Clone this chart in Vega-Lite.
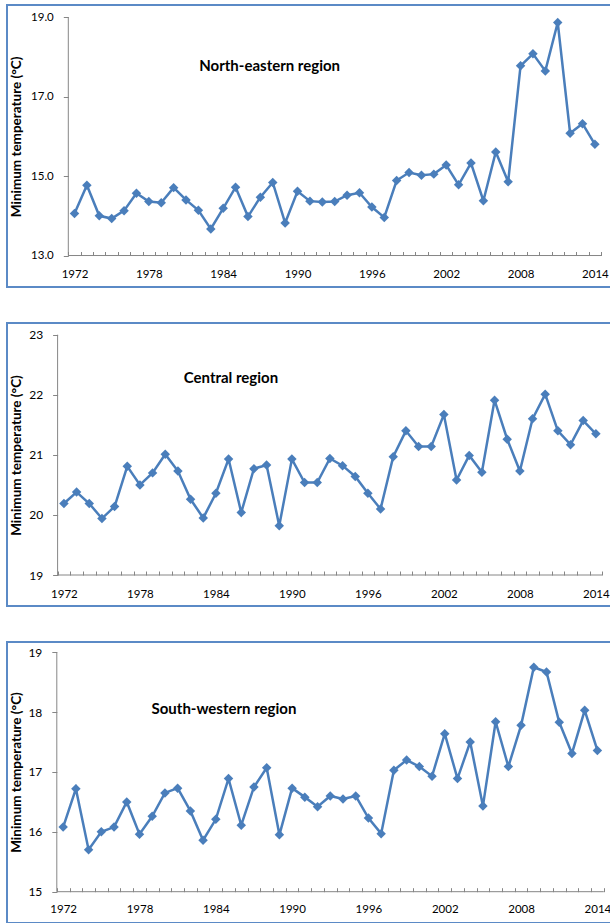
{
  "$schema": "https://vega.github.io/schema/vega-lite/v6.json",
  "padding": {"left": 6, "top": 4, "right": 0, "bottom": 0},
  "spacing": 34,
  "config": {
    "view": {"stroke": "#5B8AC6", "strokeWidth": 2},
    "axis": {"labelFont": "Lato", "labelColor": "#000000", "titleFont": "Lato", "titleColor": "#000000", "tickColor": "#868686", "grid": false, "domain": false, "labelOverlap": false, "labelBound": false, "labelFlush": false}
  },
  "datasets": {
    "ne": [
      {"year": 1972, "tmin": 14.06}, {"year": 1973, "tmin": 14.77}, {"year": 1974, "tmin": 14.00}, {"year": 1975, "tmin": 13.93}, {"year": 1976, "tmin": 14.13}, {"year": 1977, "tmin": 14.57}, {"year": 1978, "tmin": 14.36}, {"year": 1979, "tmin": 14.33}, {"year": 1980, "tmin": 14.71}, {"year": 1981, "tmin": 14.40}, {"year": 1982, "tmin": 14.14}, {"year": 1983, "tmin": 13.67}, {"year": 1984, "tmin": 14.19}, {"year": 1985, "tmin": 14.72}, {"year": 1986, "tmin": 13.98}, {"year": 1987, "tmin": 14.47}, {"year": 1988, "tmin": 14.84}, {"year": 1989, "tmin": 13.82}, {"year": 1990, "tmin": 14.62}, {"year": 1991, "tmin": 14.37}, {"year": 1992, "tmin": 14.35}, {"year": 1993, "tmin": 14.36}, {"year": 1994, "tmin": 14.52}, {"year": 1995, "tmin": 14.58}, {"year": 1996, "tmin": 14.22}, {"year": 1997, "tmin": 13.96}, {"year": 1998, "tmin": 14.89}, {"year": 1999, "tmin": 15.09}, {"year": 2000, "tmin": 15.02}, {"year": 2001, "tmin": 15.05}, {"year": 2002, "tmin": 15.28}, {"year": 2003, "tmin": 14.78}, {"year": 2004, "tmin": 15.33}, {"year": 2005, "tmin": 14.38}, {"year": 2006, "tmin": 15.61}, {"year": 2007, "tmin": 14.86}, {"year": 2008, "tmin": 17.78}, {"year": 2009, "tmin": 18.08}, {"year": 2010, "tmin": 17.65}, {"year": 2011, "tmin": 18.87}, {"year": 2012, "tmin": 16.08}, {"year": 2013, "tmin": 16.32}, {"year": 2014, "tmin": 15.80}
    ],
    "central": [
      {"year": 1972, "tmin": 20.19}, {"year": 1973, "tmin": 20.38}, {"year": 1974, "tmin": 20.19}, {"year": 1975, "tmin": 19.94}, {"year": 1976, "tmin": 20.14}, {"year": 1977, "tmin": 20.81}, {"year": 1978, "tmin": 20.50}, {"year": 1979, "tmin": 20.70}, {"year": 1980, "tmin": 21.01}, {"year": 1981, "tmin": 20.73}, {"year": 1982, "tmin": 20.26}, {"year": 1983, "tmin": 19.95}, {"year": 1984, "tmin": 20.36}, {"year": 1985, "tmin": 20.93}, {"year": 1986, "tmin": 20.04}, {"year": 1987, "tmin": 20.77}, {"year": 1988, "tmin": 20.83}, {"year": 1989, "tmin": 19.82}, {"year": 1990, "tmin": 20.93}, {"year": 1991, "tmin": 20.54}, {"year": 1992, "tmin": 20.54}, {"year": 1993, "tmin": 20.94}, {"year": 1994, "tmin": 20.82}, {"year": 1995, "tmin": 20.64}, {"year": 1996, "tmin": 20.36}, {"year": 1997, "tmin": 20.10}, {"year": 1998, "tmin": 20.97}, {"year": 1999, "tmin": 21.40}, {"year": 2000, "tmin": 21.14}, {"year": 2001, "tmin": 21.14}, {"year": 2002, "tmin": 21.67}, {"year": 2003, "tmin": 20.58}, {"year": 2004, "tmin": 20.99}, {"year": 2005, "tmin": 20.71}, {"year": 2006, "tmin": 21.91}, {"year": 2007, "tmin": 21.26}, {"year": 2008, "tmin": 20.73}, {"year": 2009, "tmin": 21.60}, {"year": 2010, "tmin": 22.01}, {"year": 2011, "tmin": 21.40}, {"year": 2012, "tmin": 21.17}, {"year": 2013, "tmin": 21.57}, {"year": 2014, "tmin": 21.35}
    ],
    "sw": [
      {"year": 1972, "tmin": 16.08}, {"year": 1973, "tmin": 16.72}, {"year": 1974, "tmin": 15.70}, {"year": 1975, "tmin": 16.00}, {"year": 1976, "tmin": 16.08}, {"year": 1977, "tmin": 16.50}, {"year": 1978, "tmin": 15.96}, {"year": 1979, "tmin": 16.26}, {"year": 1980, "tmin": 16.65}, {"year": 1981, "tmin": 16.73}, {"year": 1982, "tmin": 16.35}, {"year": 1983, "tmin": 15.86}, {"year": 1984, "tmin": 16.21}, {"year": 1985, "tmin": 16.89}, {"year": 1986, "tmin": 16.11}, {"year": 1987, "tmin": 16.75}, {"year": 1988, "tmin": 17.07}, {"year": 1989, "tmin": 15.95}, {"year": 1990, "tmin": 16.73}, {"year": 1991, "tmin": 16.58}, {"year": 1992, "tmin": 16.42}, {"year": 1993, "tmin": 16.60}, {"year": 1994, "tmin": 16.55}, {"year": 1995, "tmin": 16.60}, {"year": 1996, "tmin": 16.23}, {"year": 1997, "tmin": 15.97}, {"year": 1998, "tmin": 17.03}, {"year": 1999, "tmin": 17.20}, {"year": 2000, "tmin": 17.09}, {"year": 2001, "tmin": 16.93}, {"year": 2002, "tmin": 17.64}, {"year": 2003, "tmin": 16.89}, {"year": 2004, "tmin": 17.50}, {"year": 2005, "tmin": 16.43}, {"year": 2006, "tmin": 17.84}, {"year": 2007, "tmin": 17.09}, {"year": 2008, "tmin": 17.78}, {"year": 2009, "tmin": 18.75}, {"year": 2010, "tmin": 18.67}, {"year": 2011, "tmin": 17.83}, {"year": 2012, "tmin": 17.31}, {"year": 2013, "tmin": 18.03}, {"year": 2014, "tmin": 17.36}
    ]
  },
  "vconcat": [
    {
      "width": 604, "height": 282,
      "data": {"name": "ne"},
      "layer": [
        {"data": {"values": [{}]}, "mark": {"type": "rule", "color": "#868686", "strokeWidth": 1}, "encoding": {"x": {"datum": 1971.5, "type": "quantitative"}, "y": {"datum": 13, "type": "quantitative"}, "y2": {"datum": 19}}},
        {"data": {"values": [{}]}, "mark": {"type": "rule", "color": "#868686", "strokeWidth": 1}, "encoding": {"x": {"datum": 1971.5, "type": "quantitative"}, "x2": {"datum": 2014.5}, "y": {"datum": 13, "type": "quantitative"}}},
        {
          "mark": {"type": "line", "color": "#4A7EBB", "strokeWidth": 2.5},
          "encoding": {
            "x": {"field": "year", "type": "quantitative", "scale": {"domain": [1966.552, 2015.30], "nice": false, "zero": false},
              "axis": {"title": null, "tickCount": 100, "values": [1971.5,1972.5,1973.5,1974.5,1975.5,1976.5,1977.5,1978.5,1979.5,1980.5,1981.5,1982.5,1983.5,1984.5,1985.5,1986.5,1987.5,1988.5,1989.5,1990.5,1991.5,1992.5,1993.5,1994.5,1995.5,1996.5,1997.5,1998.5,1999.5,2000.5,2001.5,2002.5,2003.5,2004.5,2005.5,2006.5,2007.5,2008.5,2009.5,2010.5,2011.5,2012.5,2013.5,2014.5],
                "labelExpr": "(datum.value + 0.5 - 1972) % 6 === 0 ? format(datum.value + 0.5, 'd') : ''",
                "labelOverlap": false, "labelOffset": 6.2, "tickSize": -4, "offset": -31.5, "labelPadding": 17, "labelFontSize": 11.5}},
            "y": {"field": "tmin", "type": "quantitative", "scale": {"domain": [12.207, 19.31], "nice": false, "zero": false},
              "axis": {"title": "Minimum temperature (°C)", "values": [13, 15, 17, 19], "format": ".1f", "labelOverlap": false, "tickSize": 5, "offset": -61.3, "labelPadding": 10, "labelFontSize": 11.5, "titleFontSize": 13.5, "titleFontWeight": "bold", "titleX": -44.8, "titleY": 131.4}}
          }
        },
        {"mark": {"type": "point", "shape": "diamond", "filled": true, "size": 90, "color": "#4A7EBB", "opacity": 1}, "encoding": {"x": {"field": "year", "type": "quantitative"}, "y": {"field": "tmin", "type": "quantitative"}}},
        {"data": {"values": [{}]}, "mark": {"type": "text", "text": "North-eastern region", "font": "Lato", "fontWeight": "bold", "fontSize": 15, "color": "#000000"}, "encoding": {"x": {"datum": 1987.75, "type": "quantitative"}, "y": {"datum": 17.766, "type": "quantitative"}}}
      ]
    },
    {
      "width": 604, "height": 283,
      "data": {"name": "central"},
      "layer": [
        {"data": {"values": [{}]}, "mark": {"type": "rule", "color": "#868686", "strokeWidth": 1}, "encoding": {"x": {"datum": 1971.5, "type": "quantitative"}, "y": {"datum": 19, "type": "quantitative"}, "y2": {"datum": 23}}},
        {"data": {"values": [{}]}, "mark": {"type": "rule", "color": "#868686", "strokeWidth": 1}, "encoding": {"x": {"datum": 1971.5, "type": "quantitative"}, "x2": {"datum": 2014.5}, "y": {"datum": 19, "type": "quantitative"}}},
        {
          "mark": {"type": "line", "color": "#4A7EBB", "strokeWidth": 2.5},
          "encoding": {
            "x": {"field": "year", "type": "quantitative", "scale": {"domain": [1967.505, 2015.195], "nice": false, "zero": false},
              "axis": {"title": null, "tickCount": 100, "values": [1971.5,1972.5,1973.5,1974.5,1975.5,1976.5,1977.5,1978.5,1979.5,1980.5,1981.5,1982.5,1983.5,1984.5,1985.5,1986.5,1987.5,1988.5,1989.5,1990.5,1991.5,1992.5,1993.5,1994.5,1995.5,1996.5,1997.5,1998.5,1999.5,2000.5,2001.5,2002.5,2003.5,2004.5,2005.5,2006.5,2007.5,2008.5,2009.5,2010.5,2011.5,2012.5,2013.5,2014.5],
                "labelExpr": "(datum.value + 0.5 - 1972) % 6 === 0 ? format(datum.value + 0.5, 'd') : ''",
                "labelOverlap": false, "labelOffset": 6.33, "tickSize": -4, "offset": -31, "labelPadding": 17, "labelFontSize": 11.5}},
            "y": {"field": "tmin", "type": "quantitative", "scale": {"domain": [18.484, 23.195], "nice": false, "zero": false},
              "axis": {"title": "Minimum temperature (°C)", "values": [19, 20, 21, 22, 23], "format": "d", "labelOverlap": false, "tickSize": 5, "offset": -50.6, "labelPadding": 10, "labelFontSize": 12, "titleFontSize": 13.5, "titleFontWeight": "bold", "titleX": -34.1, "titleY": 132}}
          }
        },
        {"mark": {"type": "point", "shape": "diamond", "filled": true, "size": 90, "color": "#4A7EBB", "opacity": 1}, "encoding": {"x": {"field": "year", "type": "quantitative"}, "y": {"field": "tmin", "type": "quantitative"}}},
        {"data": {"values": [{}]}, "mark": {"type": "text", "text": "Central region", "font": "Lato", "fontWeight": "bold", "fontSize": 15, "color": "#000000"}, "encoding": {"x": {"datum": 1985.19, "type": "quantitative"}, "y": {"datum": 22.284, "type": "quantitative"}}}
      ]
    },
    {
      "width": 604, "height": 281,
      "data": {"name": "sw"},
      "layer": [
        {"data": {"values": [{}]}, "mark": {"type": "rule", "color": "#868686", "strokeWidth": 1}, "encoding": {"x": {"datum": 1971.5, "type": "quantitative"}, "y": {"datum": 15, "type": "quantitative"}, "y2": {"datum": 19}}},
        {"data": {"values": [{}]}, "mark": {"type": "rule", "color": "#868686", "strokeWidth": 1}, "encoding": {"x": {"datum": 1971.5, "type": "quantitative"}, "x2": {"datum": 2014.5}, "y": {"datum": 15, "type": "quantitative"}}},
        {
          "mark": {"type": "line", "color": "#4A7EBB", "strokeWidth": 2.5},
          "encoding": {
            "x": {"field": "year", "type": "quantitative", "scale": {"domain": [1967.585, 2015.069], "nice": false, "zero": false},
              "axis": {"title": null, "tickCount": 100, "values": [1971.5,1972.5,1973.5,1974.5,1975.5,1976.5,1977.5,1978.5,1979.5,1980.5,1981.5,1982.5,1983.5,1984.5,1985.5,1986.5,1987.5,1988.5,1989.5,1990.5,1991.5,1992.5,1993.5,1994.5,1995.5,1996.5,1997.5,1998.5,1999.5,2000.5,2001.5,2002.5,2003.5,2004.5,2005.5,2006.5,2007.5,2008.5,2009.5,2010.5,2011.5,2012.5,2013.5,2014.5],
                "labelExpr": "(datum.value + 0.5 - 1972) % 6 === 0 ? format(datum.value + 0.5, 'd') : ''",
                "labelOverlap": false, "labelOffset": 6.36, "tickSize": -4, "offset": -31.3, "labelPadding": 16, "labelFontSize": 11.5}},
            "y": {"field": "tmin", "type": "quantitative", "scale": {"domain": [14.477, 19.172], "nice": false, "zero": false},
              "axis": {"title": "Minimum temperature (°C)", "values": [15, 16, 17, 18, 19], "format": "d", "labelOverlap": false, "tickSize": 5, "offset": -49.8, "labelPadding": 10, "labelFontSize": 12, "titleFontSize": 13.5, "titleFontWeight": "bold", "titleX": -33.3, "titleY": 130}}
          }
        },
        {"mark": {"type": "point", "shape": "diamond", "filled": true, "size": 90, "color": "#4A7EBB", "opacity": 1}, "encoding": {"x": {"field": "year", "type": "quantitative"}, "y": {"field": "tmin", "type": "quantitative"}}},
        {"data": {"values": [{}]}, "mark": {"type": "text", "text": "South-western region", "font": "Lato", "fontWeight": "bold", "fontSize": 15, "color": "#000000"}, "encoding": {"x": {"datum": 1984.64, "type": "quantitative"}, "y": {"datum": 18.048, "type": "quantitative"}}}
      ]
    }
  ]
}
